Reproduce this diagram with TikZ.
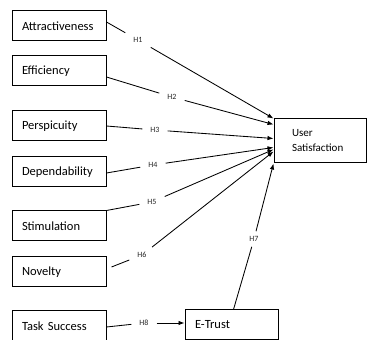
\documentclass[tikz,border=0pt]{standalone}
\usepackage{fontspec}
\setmainfont{Carlito}
\usetikzlibrary{arrows.meta,calc}
\begin{document}
\begin{tikzpicture}[x=1pt,y=1pt,
  box/.style={draw, line width=1pt, minimum width=94pt, minimum height=30pt,
    text width=74pt, inner xsep=10pt, align=left, text=black,
    font=\fontsize{12.5}{15}\selectfont},
  hyp/.style={inner xsep=8pt, inner ysep=5pt, text=black!85,
    font=\fontsize{8}{9}\selectfont},
  conn/.style={line width=0.85pt},
  arr/.style={conn, -{Latex[length=6pt,width=4.5pt]}}]
\useasboundingbox (0,0) rectangle (367,340);

% left boxes
\node[box] (att) at (59,314) {Attractiveness};
\node[box] (eff) at (59,269) {Efficiency};
\node[box] (per) at (59,214) {Perspicuity};
\node[box] (dep) at (59,168) {Dependability};
\node[box] (sti) at (59,114) {Stimulation};
\node[box] (nov) at (59,68) {Novelty};
\node[box] (tas) at (59,14) {Task Success};

% right boxes
\node[box, minimum width=92pt, minimum height=44pt, text width=56pt,
  inner xsep=18pt, font=\fontsize{11}{15}\selectfont] (us) at (320,199) {User\\Satisfaction};
\node[box, minimum width=93pt, text width=73pt] (et) at (231.5,15) {E-Trust};

% hypothesis labels
\node[hyp] (h1) at (138,300) {H1};
\node[hyp] (h2) at (172,243) {H2};
\node[hyp] (h3) at (155,210) {H3};
\node[hyp] (h4) at (153,175) {H4};
\node[hyp] (h5) at (152,138) {H5};
\node[hyp] (h6) at (142,85) {H6};
\node[hyp] (h7) at (254,101) {H7};
\node[hyp] (h8) at (144,17) {H8};

% target points on User Satisfaction
\coordinate (t2) at ($(us.north west)+(0,-6)$);
\coordinate (t3) at ($(us.north west)+(0,-20)$);
\coordinate (t4) at ($(us.north west)+(0,-29)$);
\coordinate (t5) at ($(us.north west)+(0,-31)$);
\coordinate (t6) at ($(us.north west)+(0,-33)$);

% connectors
\draw[conn] ($(att.east)+(0,4)$) -- (h1);
\draw[arr] (h1) -- (us.north west);
\draw[conn] ($(eff.east)+(0,-6)$) -- (h2);
\draw[arr] (h2) -- (t2);
\draw[conn] (per.east) -- (h3);
\draw[arr] (h3) -- (t3);
\draw[conn] ($(dep.east)+(0,-1)$) -- (h4);
\draw[arr] (h4) -- (t4);
\draw[conn] (sti.north east) -- (h5);
\draw[arr] (h5) -- (t5);
\draw[conn] ($(nov.east)+(5,5)$) -- (h6);
\draw[arr] (h6) -- (t6);
\draw[conn] ($(et.north)+(2,0)$) -- (h7);
\draw[arr] (h7) -- (us.south west);
\draw[conn] ($(tas.east)+(0,-1)$) -- (h8);
\draw[arr] (h8) -- ($(et.west)+(0,2)$);
\end{tikzpicture}
\end{document}
